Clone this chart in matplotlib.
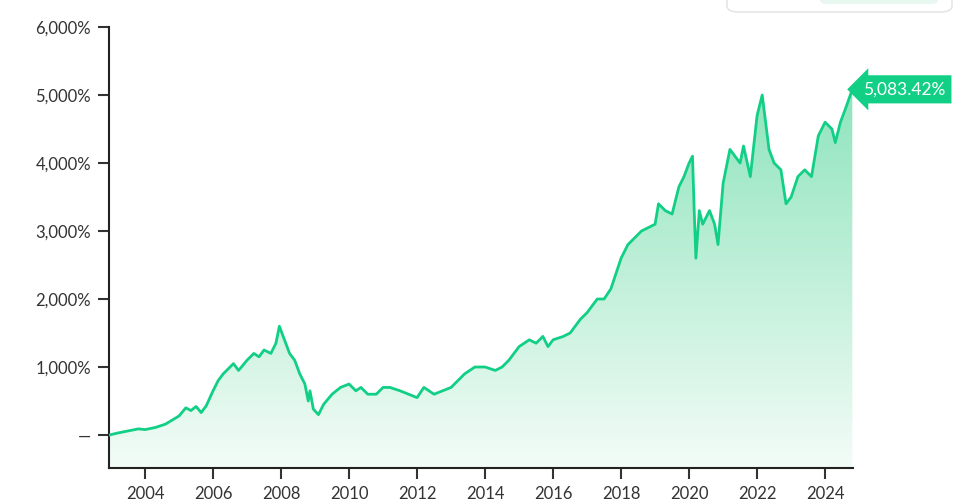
import matplotlib
matplotlib.use("Agg")
import matplotlib.pyplot as plt
import numpy as np
from matplotlib.patches import FancyBboxPatch
from matplotlib.colors import LinearSegmentedColormap
from matplotlib.transforms import offset_copy

years = [2002.95,2003.2,2003.5,2003.8,2004.0,2004.3,2004.6,2004.8,2005.0,2005.2,2005.35,2005.5,2005.65,2005.8,2006.0,2006.15,2006.3,2006.5,2006.6,2006.75,2007.0,2007.2,2007.35,2007.5,2007.7,2007.85,2007.95,2008.1,2008.25,2008.4,2008.55,2008.7,2008.8,2008.85,2008.95,2009.1,2009.25,2009.5,2009.75,2010.0,2010.2,2010.35,2010.55,2010.8,2011.0,2011.2,2011.5,2011.75,2012.0,2012.2,2012.5,2012.75,2013.0,2013.2,2013.4,2013.7,2014.0,2014.3,2014.5,2014.7,2015.0,2015.3,2015.5,2015.7,2015.85,2016.0,2016.3,2016.5,2016.8,2017.0,2017.3,2017.5,2017.7,2018.0,2018.2,2018.4,2018.6,2018.8,2019.0,2019.1,2019.3,2019.5,2019.7,2019.85,2020.0,2020.1,2020.15,2020.2,2020.3,2020.4,2020.6,2020.75,2020.85,2021.0,2021.2,2021.35,2021.5,2021.6,2021.8,2022.0,2022.15,2022.25,2022.35,2022.5,2022.7,2022.85,2023.0,2023.2,2023.4,2023.6,2023.8,2024.0,2024.2,2024.3,2024.45,2024.6,2024.8]
values = [0,30,60,90,80,110,160,220,280,400,360,420,330,430,650,800,900,1000,1050,950,1100,1200,1150,1250,1200,1350,1600,1400,1200,1100,900,750,500,650,380,300,450,600,700,750,650,700,600,600,700,700,650,600,550,700,600,650,700,800,900,1000,1000,950,1000,1100,1300,1400,1350,1450,1300,1400,1450,1500,1700,1800,2000,2000,2150,2600,2800,2900,3000,3050,3100,3400,3300,3250,3650,3800,4000,4100,3300,2600,3300,3100,3300,3100,2800,3700,4200,4100,4000,4250,3800,4700,5000,4600,4200,4000,3900,3400,3500,3800,3900,3800,4400,4600,4500,4300,4600,4800,5083.42]
xticks = [2004,2006,2008,2010,2012,2014,2016,2018,2020,2022,2024]
yticks = [0,1000,2000,3000,4000,5000,6000]
ylabels = ["—","1,000%","2,000%","3,000%","4,000%","5,000%","6,000%"]
end_label = "5,083.42%"

plt.rcParams['font.family'] = ['Lato', 'DejaVu Sans']
fig = plt.figure(figsize=(9.6,5.04), dpi=100)
ax = fig.add_axes([109/960, 1-468/504, (853-109)/960, (468-27)/504])
x = np.array(years); y = np.array(values)
ymin, ymax = -485, 6000
ax.set_xlim(2002.94, 2024.82); ax.set_ylim(ymin, ymax)
cmap = LinearSegmentedColormap.from_list("g", ["#f3fcf7", "#8fe4bd"])
grad = np.linspace(0,1,256).reshape(-1,1)
im = ax.imshow(grad, extent=[2002.94,2024.82,ymin,5100], origin='lower', aspect='auto', cmap=cmap, zorder=1)
poly = ax.fill_between(x, y, ymin, color='none')
im.set_clip_path(poly.get_paths()[0], transform=ax.transData)
ax.plot(x, y, color="#12cf86", lw=2, zorder=3)
ax.set_xticks(xticks); ax.set_yticks(yticks); ax.set_yticklabels(ylabels)
for s in ['top','right']: ax.spines[s].set_visible(False)
for s in ['left','bottom']: ax.spines[s].set_linewidth(1.5); ax.spines[s].set_color('#222222')
ax.tick_params(length=8, width=1.5, color='#333333', labelsize=12, labelcolor='#333333', pad=5)
ax.text(1.0, values[-1], end_label,
        transform=offset_copy(ax.get_yaxis_transform(), fig=fig, x=10, y=0, units='dots'),
        fontsize=12.5, color='white', va='center', ha='left',
        bbox=dict(boxstyle='larrow,pad=0.35', fc='#12cf86', ec='none'), zorder=5, clip_on=False)
fig.patches.append(FancyBboxPatch((727/960, 1-12/504), 225/960, 30/504, boxstyle='round,pad=0,rounding_size=0.012',
        transform=fig.transFigure, fc='white', ec='#e2e2e2', lw=1))
fig.patches.append(FancyBboxPatch((820/960, 1-4/504), 118/960, 20/504, boxstyle='round,pad=0,rounding_size=0.008',
        transform=fig.transFigure, fc='#e8f7f0', ec='none'))
fig.savefig("out.png", dpi=100)
